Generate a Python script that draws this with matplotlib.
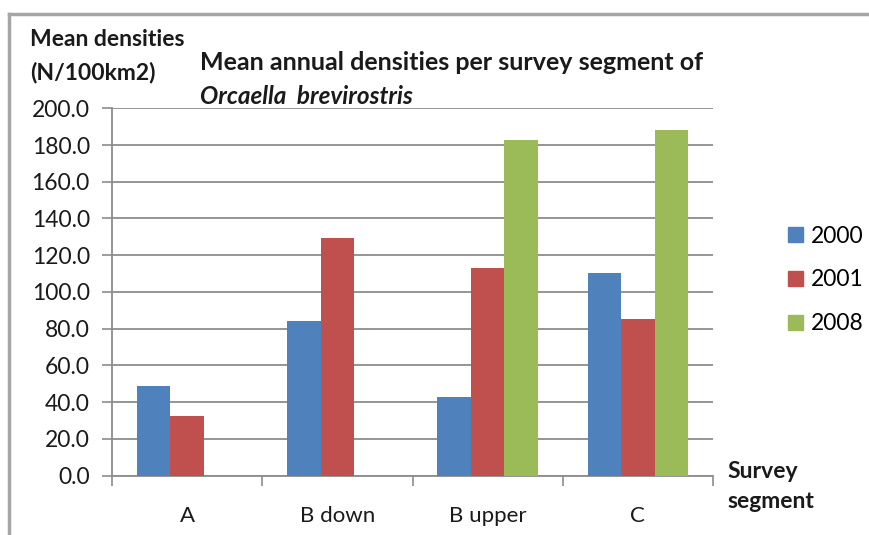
import numpy as np
import matplotlib
matplotlib.use("Agg")
import matplotlib.pyplot as plt
from matplotlib.patches import Patch

plt.rcParams['font.family'] = ['Lato', 'DejaVu Sans']

segments = ['A', 'B down', 'B upper', 'C']
years = ['2000', '2001', '2008']
d2000 = [49.0, 84.0, 43.0, 110.5]
d2001 = [32.5, 129.5, 113.0, 85.0]
d2008 = [0.0, 0.0, 182.5, 188.0]
yticks = np.arange(0, 201, 20)

colors = ['#4F81BD', '#C0504D', '#9BBB59']
grid_col = '#8c8c8c'
ink = '#1a1a1a'

fig = plt.figure(figsize=(8.69, 5.35), dpi=100)
ax = fig.add_axes([112/869, 1-475.5/535, 601/869, 367.2/535])

x = np.arange(len(segments))
w = 0.223
for i, (vals, c) in enumerate(zip([d2000, d2001, d2008], colors)):
    ax.bar(x + (i-1)*w, vals, width=w, color=c, zorder=3)

ax.set_xlim(-0.5, 3.5)
ax.set_ylim(0, 200)
ax.set_yticks(yticks)
ax.set_yticklabels([f'{v:.1f}' for v in yticks], fontsize=16.5, color=ink)
ax.yaxis.grid(True, color=grid_col, lw=1.3, zorder=0)
ax.tick_params(axis='y', length=7, width=1.2, color=grid_col, pad=9)

# category ticks sit on group boundaries, labels at the centres
ax.set_xticks(np.arange(-0.5, 4, 1))
ax.set_xticklabels([])
ax.set_xticks(x, minor=True)
ax.set_xticklabels(segments, minor=True, fontsize=16, color=ink)
ax.tick_params(axis='x', which='major', length=7, width=1.2, color=grid_col)
ax.tick_params(axis='x', which='minor', length=0, pad=22)

for s in ['top', 'right']:
    ax.spines[s].set_visible(False)
for s in ['left', 'bottom']:
    ax.spines[s].set_color(grid_col)
    ax.spines[s].set_linewidth(1.3)

# outer chart frame (top and left edges)
fig.add_artist(plt.Line2D([9/869, 1], [1-14/535, 1-14/535], color='#a6a6a6', lw=2.5))
fig.add_artist(plt.Line2D([9/869, 9/869], [0, 1-14/535], color='#a6a6a6', lw=2.5))

def ftxt(px, py, s, **kw):
    fig.text(px/869, 1-py/535, s, va='center', ha='left', **kw)

ftxt(30, 40, 'Mean densities', fontsize=16.5, fontweight='bold', color=ink)
ftxt(30, 72, '(N/100km2)', fontsize=16.5, fontweight='bold', color=ink)
ftxt(200, 63, 'Mean annual densities per survey segment of', fontsize=18,
     fontweight='bold', color=ink)
ftxt(200, 97, 'Orcaella  brevirostris', fontsize=17.5, fontweight='bold',
     style='italic', color=ink)
ftxt(727, 472, 'Survey', fontsize=16.5, fontweight='bold', color=ink)
ftxt(727, 502, 'segment', fontsize=16.5, fontweight='bold', color=ink)

handles = [Patch(color=c) for c in colors]
fig.legend(handles, years, loc='center left', bbox_to_anchor=(788/869, 1-280/535),
           frameon=False, fontsize=16.5, handlelength=0.65, handleheight=0.65,
           handletextpad=0.35, labelspacing=1.0, borderpad=0, borderaxespad=0)

fig.savefig('out.png', dpi=100)
